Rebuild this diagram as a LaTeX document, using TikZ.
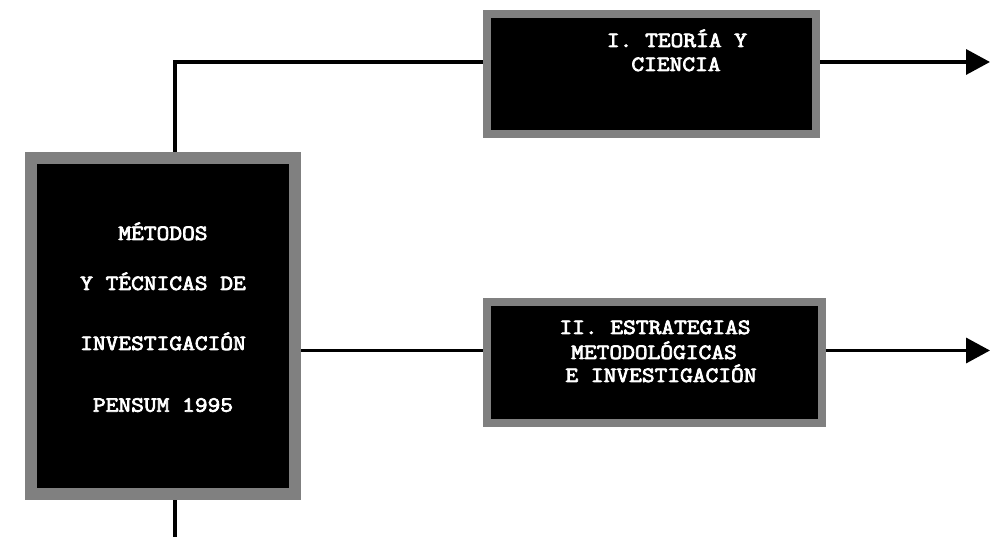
\documentclass[tikz,border=0pt]{standalone}
\usepackage{fontspec}
\newfontfamily\boxmono{Latin Modern Mono}[FakeBold=3.5,FakeStretch=1.14]
\usetikzlibrary{arrows.meta,backgrounds}
\begin{document}
\begin{tikzpicture}[x=1pt,y=1pt,
  framebox/.style={draw=gray,fill=black,inner sep=0pt},
  lbl/.style={text=white,font=\boxmono\fontsize{21.7}{24}\selectfont,anchor=base,inner sep=0pt},
  link/.style={line width=3.5pt,black},
  outarrow/.style={link,-{Triangle[length=24pt,width=25pt]}}]
\useasboundingbox (0,0) rectangle (997,537);

% boxes
\node[framebox,line width=12pt,minimum width=264pt,minimum height=336pt] (metodos) at (163,211) {};
\node[framebox,line width=8pt,minimum width=329pt,minimum height=120pt] (teoria) at (651.5,463) {};
\node[framebox,line width=8pt,minimum width=335pt,minimum height=121pt] (estrategias) at (654.5,174.5) {};

% labels
\node[lbl] (m1) at (163,297) {MÉTODOS};
\node[lbl] (m2) at (163,247) {Y TÉCNICAS DE};
\node[lbl] (m3) at (163,187) {INVESTIGACIÓN};
\node[lbl] (m4) at (163,125.3) {PENSUM 1995};

\node[lbl] (t1) at (677,490) {I. TEORÍA Y};
\node[lbl] (t2) at (676,466) {CIENCIA};

\node[lbl] (e1) at (655,203) {II. ESTRATEGIAS};
\node[lbl] (e2) at (654,178) {METODOLÓGICAS};
\node[lbl] (e3) at (661,155) {E INVESTIGACIÓN};

% connector end points
\coordinate (elbow) at (175,475);
\coordinate (midrow) at (0,186.5);
\coordinate (bottomend) at (175,0);
\coordinate (outtop) at (990,475);
\coordinate (outmid) at (990,186.5);

\begin{scope}[on background layer]
  \draw[link] (metodos.north -| elbow) -- (elbow) -- (teoria.west |- elbow);
  \draw[link] (metodos.east |- midrow) -- (estrategias.west |- midrow);
  \draw[link] (metodos.south -| bottomend) -- (bottomend);
  \draw[outarrow] (teoria.east |- outtop) -- (outtop);
  \draw[outarrow] (estrategias.east |- outmid) -- (outmid);
\end{scope}
\end{tikzpicture}
\end{document}
